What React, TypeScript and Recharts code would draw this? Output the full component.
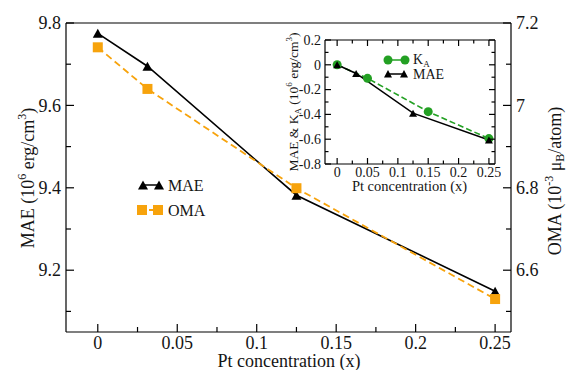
import React from 'react';
import { LineChart, Line, XAxis, YAxis, ReferenceLine, Legend } from 'recharts';

// ---------- main chart data ----------
const concentrations = [0, 0.03125, 0.125, 0.25];
const maeValues = [9.775, 9.695, 9.382, 9.149];
const omaValues = [7.141, 7.04, 6.799, 6.53];

// ---------- inset data ----------
const insetMaeConc = [0, 0.03125, 0.125, 0.25];
const insetMaeValues = [0, -0.07, -0.39, -0.606];
const kaConc = [0, 0.05, 0.15, 0.25];
const kaValues = [0, -0.109, -0.378, -0.595];

// ---------- ticks ----------
const xTicks = [0, 0.025, 0.05, 0.075, 0.1, 0.125, 0.15, 0.175, 0.2, 0.225, 0.25];
const xLabels = ['0', '0.05', '0.1', '0.15', '0.2', '0.25'];
const leftTicks = [9.1, 9.2, 9.3, 9.4, 9.5, 9.6, 9.7, 9.8];
const leftLabels = ['9.2', '9.4', '9.6', '9.8'];
const rightTicks = [6.5, 6.6, 6.7, 6.8, 6.9, 7.0, 7.1, 7.2];
const rightLabels = ['6.6', '6.8', '7', '7.2'];
const insetYTicks = [-0.8, -0.7, -0.6, -0.5, -0.4, -0.3, -0.2, -0.1, 0, 0.1, 0.2];
const insetYLabels = ['-0.8', '-0.6', '-0.4', '-0.2', '0', '0.2'];

const mainData = concentrations.map((x, i) => ({ x, mae: maeValues[i], oma: omaValues[i] }));
const insetMaeData = insetMaeConc.map((x, i) => ({ x, v: insetMaeValues[i] }));
const kaData = kaConc.map((x, i) => ({ x, v: kaValues[i] }));

const FONT = "'Liberation Serif', 'Times New Roman', Times, 'DejaVu Serif', serif";
const TEXT = '#151515';
const ORANGE = '#f7a30c';
const GREEN = '#23a023';

const txt = (size: number): React.CSSProperties => ({ fontFamily: FONT, fontSize: size, fill: TEXT });

const fmt = (v: number) => String(parseFloat(v.toFixed(4)));

type TickOpts = {
  side: 'bottom' | 'top' | 'left' | 'right';
  labels: string[];
  major: number;
  minor: number;
  fontSize: number;
  gap: number;
  showLabels: boolean;
};

function makeTick(o: TickOpts) {
  return (props: any) => {
    const { x, y, payload } = props;
    const s = fmt(payload.value);
    const isMajor = o.labels.includes(s);
    const L = isMajor ? o.major : o.minor;
    const st = txt(o.fontSize);
    let line: any = null;
    let text: any = null;
    if (o.side === 'bottom') {
      line = <line x1={x} y1={y} x2={x} y2={y - L} stroke="#000" strokeWidth={1.2} />;
      if (isMajor && o.showLabels)
        text = (
          <text x={x} y={y + o.gap} textAnchor="middle" style={st}>
            {s}
          </text>
        );
    } else if (o.side === 'top') {
      line = <line x1={x} y1={y} x2={x} y2={y + L} stroke="#000" strokeWidth={1.2} />;
    } else if (o.side === 'left') {
      line = <line x1={x} y1={y} x2={x + L} y2={y} stroke="#000" strokeWidth={1.2} />;
      if (isMajor && o.showLabels)
        text = (
          <text x={x - o.gap} y={y + o.fontSize * 0.34} textAnchor="end" style={st}>
            {s}
          </text>
        );
    } else {
      line = <line x1={x} y1={y} x2={x - L} y2={y} stroke="#000" strokeWidth={1.2} />;
      if (isMajor && o.showLabels)
        text = (
          <text x={x + o.gap} y={y + o.fontSize * 0.34} textAnchor="start" style={st}>
            {s}
          </text>
        );
    }
    return (
      <g>
        {line}
        {text}
      </g>
    );
  };
}

const triangleDot = (w: number, h: number, fill: string) => (props: any) => {
  const { cx, cy, index } = props;
  if (cx == null || cy == null) return <g key={`t${index}`} />;
  return (
    <path
      key={`t${index}`}
      d={`M${cx},${cy - h / 2} L${cx + w / 2},${cy + h / 2} L${cx - w / 2},${cy + h / 2} Z`}
      fill={fill}
    />
  );
};

const squareDot = (s: number, fill: string) => (props: any) => {
  const { cx, cy, index } = props;
  if (cx == null || cy == null) return <g key={`s${index}`} />;
  return <rect key={`s${index}`} x={cx - s / 2} y={cy - s / 2} width={s} height={s} fill={fill} />;
};

const circleDot = (r: number, fill: string) => (props: any) => {
  const { cx, cy, index } = props;
  if (cx == null || cy == null) return <g key={`c${index}`} />;
  return <circle key={`c${index}`} cx={cx} cy={cy} r={r} fill={fill} />;
};

const axisLine = { stroke: '#000', strokeWidth: 1.2 };

const MainLegend = () => (
  <svg width={100} height={50} style={{ overflow: 'visible', display: 'block' }}>
    <line x1={13} y1={15} x2={29} y2={15} stroke="#000" strokeWidth={1.5} />
    <path d="M13,10.5 L18,19.5 L8,19.5 Z" fill="#000" />
    <path d="M29,10.5 L34,19.5 L24,19.5 Z" fill="#000" />
    <text x={38} y={20.5} style={txt(16)}>
      MAE
    </text>
    <line x1={12} y1={40} x2={28} y2={40} stroke={ORANGE} strokeWidth={1.8} strokeDasharray="4 3" />
    <rect x={7} y={35} width={10} height={10} fill={ORANGE} />
    <rect x={23} y={35} width={10} height={10} fill={ORANGE} />
    <text x={38} y={45.5} style={txt(16)}>
      OMA
    </text>
  </svg>
);

const InsetLegend = () => (
  <svg width={80} height={36} style={{ overflow: 'visible', display: 'block' }}>
    <line x1={8} y1={10} x2={25} y2={10} stroke={GREEN} strokeWidth={1.5} />
    <circle cx={8} cy={10} r={4.5} fill={GREEN} />
    <circle cx={25} cy={10} r={4.5} fill={GREEN} />
    <text x={33} y={14} style={txt(14)}>
      K
      <tspan style={{ fontSize: 9 }} dy={3}>
        A
      </tspan>
    </text>
    <line x1={8} y1={24} x2={24} y2={24} stroke="#000" strokeWidth={1.5} />
    <path d="M8,20 L12,27.5 L4,27.5 Z" fill="#000" />
    <path d="M24,20 L28,27.5 L20,27.5 Z" fill="#000" />
    <text x={33} y={29} style={txt(14)}>
      MAE
    </text>
  </svg>
);

export default function App() {
  return (
    <div style={{ position: 'absolute', left: 0, top: 0, width: 566, height: 370, background: '#fff' }}>
      <div style={{ position: 'absolute', left: 0, top: 0 }}>
        <LineChart width={566} height={370} data={mainData} margin={{ top: 23, right: 0, bottom: 0, left: 0 }}>
          <XAxis
            dataKey="x"
            type="number"
            domain={[-0.02, 0.26]}
            ticks={xTicks}
            interval={0}
            allowDataOverflow
            height={38}
            tickSize={0}
            tickMargin={0}
            axisLine={axisLine}
            tickLine={false}
            tick={makeTick({ side: 'bottom', labels: xLabels, major: 8, minor: 5, fontSize: 18, gap: 17, showLabels: true })}
            label={() => (
              <text x={289} y={367} textAnchor="middle" style={txt(18)}>
                Pt concentration (x)
              </text>
            )}
          />
          <YAxis
            yAxisId="left"
            type="number"
            domain={[9.05, 9.8]}
            ticks={leftTicks}
            interval={0}
            allowDataOverflow
            width={66}
            tickSize={0}
            tickMargin={0}
            axisLine={axisLine}
            tickLine={false}
            tick={makeTick({ side: 'left', labels: leftLabels, major: 8, minor: 5, fontSize: 18, gap: 5, showLabels: true })}
            label={() => (
              <text x={34} y={178} transform="rotate(-90 34 178)" textAnchor="middle" style={txt(18)}>
                MAE (10
                <tspan style={{ fontSize: 12 }} dy={-8}>
                  6
                </tspan>
                <tspan dy={8}> erg/cm</tspan>
                <tspan style={{ fontSize: 12 }} dy={-8}>
                  3
                </tspan>
                <tspan dy={8}>)</tspan>
              </text>
            )}
          />
          <YAxis
            yAxisId="right"
            orientation="right"
            type="number"
            domain={[6.45, 7.2]}
            ticks={rightTicks}
            interval={0}
            allowDataOverflow
            width={55}
            tickSize={0}
            tickMargin={0}
            axisLine={axisLine}
            tickLine={false}
            tick={makeTick({ side: 'right', labels: rightLabels, major: 8, minor: 5, fontSize: 18, gap: 5, showLabels: true })}
            label={() => (
              <text x={561} y={181} transform="rotate(-90 561 181)" textAnchor="middle" style={txt(18)}>
                OMA (10
                <tspan style={{ fontSize: 12 }} dy={-8}>
                  -3
                </tspan>
                <tspan dy={8}> μ</tspan>
                <tspan style={{ fontSize: 12 }} dy={3}>
                  B
                </tspan>
                <tspan dy={-3}>/atom)</tspan>
              </text>
            )}
          />
          <ReferenceLine yAxisId="left" y={9.8} stroke="#000" strokeWidth={1.2} />
          <Line
            yAxisId="left"
            dataKey="mae"
            stroke="#000"
            strokeWidth={1.6}
            dot={triangleDot(10, 9, '#000')}
            activeDot={false}
            isAnimationActive={false}
          />
          <Line
            yAxisId="right"
            dataKey="oma"
            stroke={ORANGE}
            strokeWidth={1.8}
            strokeDasharray="7 4"
            dot={squareDot(10, ORANGE)}
            activeDot={false}
            isAnimationActive={false}
          />
          <Legend
            layout="horizontal"
            verticalAlign="middle"
            align="center"
            content={() => <MainLegend />}
            wrapperStyle={{ position: 'absolute', left: 130, top: 170, width: 100, height: 50 }}
          />
        </LineChart>
      </div>
      <div style={{ position: 'absolute', left: 280, top: 30 }}>
        <LineChart width={221} height={170} margin={{ top: 9, right: 5, bottom: 0, left: 0 }}>
          <XAxis
            dataKey="x"
            type="number"
            domain={[-0.02, 0.26]}
            ticks={xTicks}
            interval={0}
            allowDataOverflow
            height={36}
            tickSize={0}
            tickMargin={0}
            axisLine={axisLine}
            tickLine={false}
            tick={makeTick({ side: 'bottom', labels: xLabels, major: 6, minor: 3.5, fontSize: 14, gap: 12.5, showLabels: true })}
            label={() => (
              <text x={129.5} y={161} textAnchor="middle" style={txt(14.5)}>
                Pt concentration (x)
              </text>
            )}
          />
          <XAxis
            xAxisId="top"
            orientation="top"
            dataKey="x"
            type="number"
            domain={[-0.02, 0.26]}
            ticks={xTicks}
            interval={0}
            allowDataOverflow
            height={1}
            tickSize={0}
            tickMargin={0}
            axisLine={axisLine}
            tickLine={false}
            tick={makeTick({ side: 'top', labels: xLabels, major: 6, minor: 3.5, fontSize: 14, gap: 0, showLabels: false })}
          />
          <YAxis
            type="number"
            domain={[-0.8, 0.2]}
            ticks={insetYTicks}
            interval={0}
            allowDataOverflow
            width={45}
            tickSize={0}
            tickMargin={0}
            axisLine={axisLine}
            tickLine={false}
            tick={makeTick({ side: 'left', labels: insetYLabels, major: 6, minor: 3.5, fontSize: 14, gap: 4, showLabels: true })}
            label={() => (
              <text x={18} y={72} transform="rotate(-90 18 72)" textAnchor="middle" style={txt(13.5)}>
                MAE &amp; K
                <tspan style={{ fontSize: 9 }} dy={3}>
                  A
                </tspan>
                <tspan dy={-3}> (10</tspan>
                <tspan style={{ fontSize: 9 }} dy={-6}>
                  6
                </tspan>
                <tspan dy={6}> erg/cm</tspan>
                <tspan style={{ fontSize: 9 }} dy={-6}>
                  3
                </tspan>
                <tspan dy={6}>)</tspan>
              </text>
            )}
          />
          <YAxis
            yAxisId="r"
            orientation="right"
            type="number"
            domain={[-0.8, 0.2]}
            ticks={insetYTicks}
            interval={0}
            allowDataOverflow
            width={1}
            tickSize={0}
            tickMargin={0}
            axisLine={axisLine}
            tickLine={false}
            tick={makeTick({ side: 'right', labels: insetYLabels, major: 6, minor: 3.5, fontSize: 14, gap: 0, showLabels: false })}
          />
          <Line
            data={kaData}
            dataKey="v"
            stroke={GREEN}
            strokeWidth={1.6}
            strokeDasharray="6 3"
            dot={circleDot(4.5, GREEN)}
            activeDot={false}
            isAnimationActive={false}
          />
          <Line
            data={insetMaeData}
            dataKey="v"
            stroke="#000"
            strokeWidth={1.5}
            dot={triangleDot(8, 7, '#000')}
            activeDot={false}
            isAnimationActive={false}
          />
          <Legend
            layout="horizontal"
            verticalAlign="middle"
            align="center"
            content={() => <InsetLegend />}
            wrapperStyle={{ position: 'absolute', left: 100, top: 20, width: 80, height: 36 }}
          />
        </LineChart>
      </div>
    </div>
  );
}
